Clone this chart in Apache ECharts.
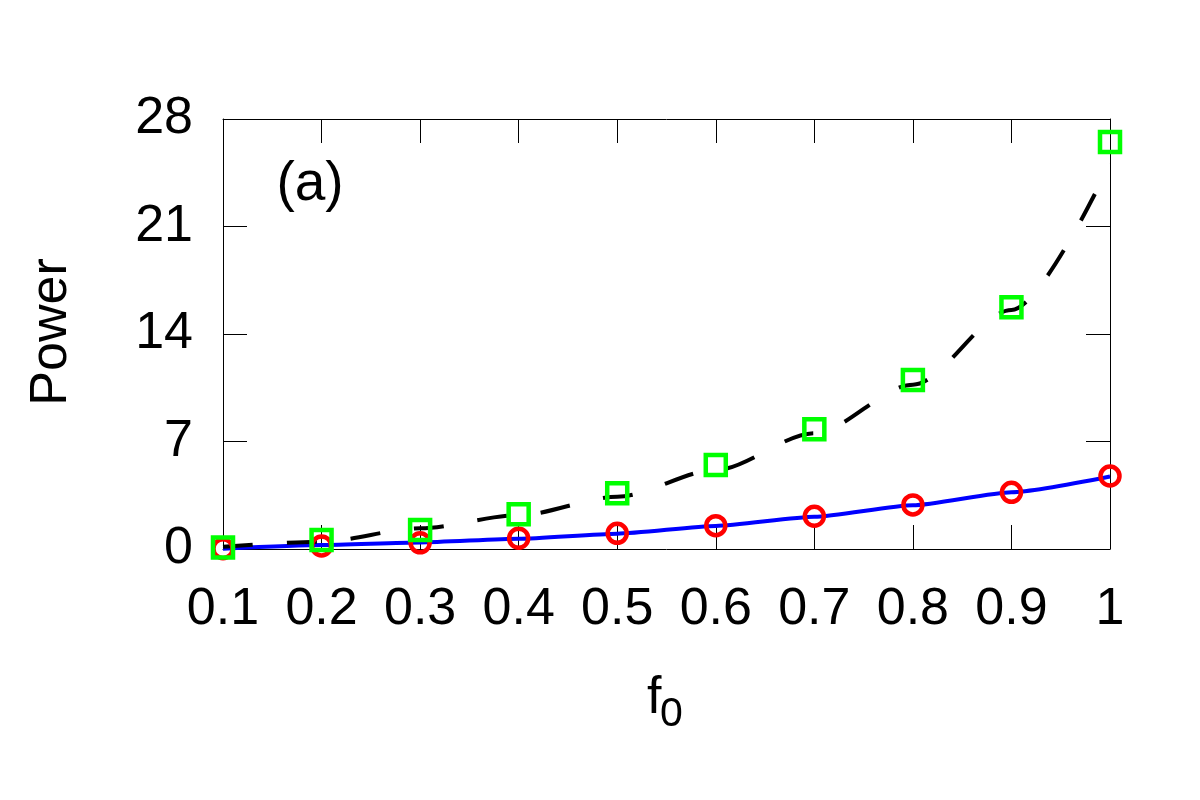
<!DOCTYPE html>
<html>
<head>
<meta charset="utf-8">
<script src="https://cdn.jsdelivr.net/npm/echarts@6/dist/echarts.min.js"></script>
<style>
  html, body { margin: 0; padding: 0; background: #fff; }
  #chart { width: 1200px; height: 800px; }
</style>
</head>
<body>
<div id="chart"></div>
<script>
// data
const f0 = [0.1, 0.2, 0.3, 0.4, 0.5, 0.6, 0.7, 0.8, 0.9, 1.0]
const circlePts = [0.02, 0.2, 0.4, 0.7, 1.02, 1.52, 2.13, 2.87, 3.69, 4.75]
const squarePts = [0.1, 0.59, 1.24, 2.26, 3.63, 5.47, 7.8, 11.0, 15.75, 26.5]
const blueLine = [0.02, 0.26, 0.43, 0.67, 1.0, 1.5, 2.1, 2.85, 3.7, 4.72]
const dashLine = [0.15, 0.48, 1.35, 2.2, 3.4, 5.15, 7.54, 10.7, 15.57, 25.1]
const yTicks = [0, 7, 14, 21, 28]

const pair = (ys) => f0.map((x, i) => [x, ys[i]])
const font = '"Liberation Sans", Arial, sans-serif'

let myChart = echarts.init(document.getElementById('chart'))

// shared axis look: black frame, ticks inside
const axisBase = {
    axisLine: { show: true, onZero: false, lineStyle: { color: '#000', width: 1 } },
    axisTick: { show: true, inside: true, length: 24, lineStyle: { color: '#000', width: 1 } },
    splitLine: { show: false }
}

let option = {
    backgroundColor: '#fff',
    animation: false,
    grid: { left: 223, right: 90, top: 119, bottom: 251 },
    xAxis: [
        Object.assign({}, axisBase, {
            type: 'value', min: 0.1, max: 1, interval: 0.1, position: 'bottom',
            axisLabel: {
                fontFamily: font, fontSize: 52, color: '#000', margin: 35,
                formatter: (v) => String(+v.toFixed(1))
            }
        }),
        Object.assign({}, axisBase, {
            type: 'value', min: 0.1, max: 1, interval: 0.1, position: 'top',
            axisLabel: { show: false }
        })
    ],
    yAxis: [
        Object.assign({}, axisBase, {
            type: 'value', min: yTicks[0], max: yTicks[yTicks.length - 1], interval: 7, position: 'left',
            axisLabel: { fontFamily: font, fontSize: 52, color: '#000', margin: 30 }
        }),
        Object.assign({}, axisBase, {
            type: 'value', min: yTicks[0], max: yTicks[yTicks.length - 1], interval: 7, position: 'right',
            axisLabel: { show: false }
        })
    ],
    graphic: [
        {
            type: 'text', x: 52, y: 332, rotation: Math.PI / 2,
            style: { text: 'Power', font: '52px ' + font, fill: '#000', align: 'center', verticalAlign: 'middle' }
        },
        {
            type: 'text', x: 647, y: 699,
            style: { text: 'f', font: '52px ' + font, fill: '#000', align: 'left', verticalAlign: 'middle' }
        },
        {
            type: 'text', x: 660, y: 715,
            style: { text: '0', font: '41px ' + font, fill: '#000', align: 'left', verticalAlign: 'middle' }
        },
        {
            type: 'text', x: 310, y: 185,
            style: { text: '(a)', font: '55px ' + font, fill: '#000', align: 'center', verticalAlign: 'middle' }
        }
    ],
    series: [
        {
            type: 'line', data: pair(blueLine), showSymbol: false,
            smooth: 0.2, smoothMonotone: 'x', z: 2,
            lineStyle: { color: '#0000ff', width: 4 }
        },
        {
            type: 'line', data: pair(dashLine), showSymbol: false,
            smooth: 0.3, smoothMonotone: 'x', z: 2,
            lineStyle: { color: '#000', width: 4, type: [30, 34] }
        },
        {
            type: 'scatter', data: pair(circlePts), symbol: 'circle', symbolSize: 19, z: 3,
            itemStyle: { color: 'rgba(0,0,0,0)', borderColor: '#ff0000', borderWidth: 4.5, opacity: 1 }
        },
        {
            type: 'scatter', data: pair(squarePts), symbol: 'rect', symbolSize: 20, z: 4,
            itemStyle: { color: 'rgba(0,0,0,0)', borderColor: '#00ff00', borderWidth: 4.5, opacity: 1 }
        }
    ]
}

myChart.setOption(option)
window.addEventListener('resize', function () {
    myChart.resize()
})
</script>
</body>
</html>
